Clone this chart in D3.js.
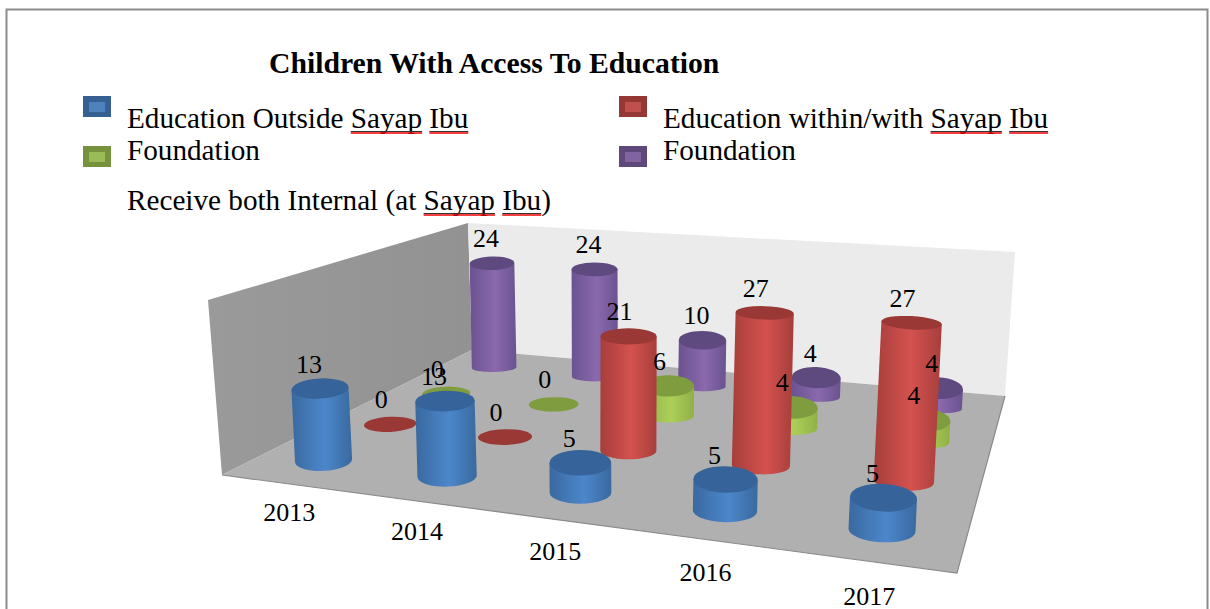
<!DOCTYPE html>
<html lang="en">
<head>
  <meta charset="UTF-8" />
  <title>Children With Access To Education</title>
  <style>
    body { margin: 0; background: #fff; }
    svg { display: block; }
    text { font-family: "Liberation Serif", serif; fill: #000; }
  </style>
</head>
<body>
  <svg id="chart" width="1210" height="609"></svg>

  <script src="https://d3js.org/d3.v7.min.js"></script>
  <script>
    const years = ["2013", "2014", "2015", "2016", "2017"];
    const seriesNames = ["outside", "within", "foundationA", "foundationB"];
    const outside = [13, 13, 5, 5, 5];
    const within = [0, 0, 21, 27, 27];
    const foundationA = [0, 0, 6, 4, 4];
    const foundationB = [24, 24, 10, 4, 4];
    const seriesValues = [outside, within, foundationA, foundationB];

    const palette = [
      { top: "#36649a", edge: "#39699f", mid: "#4c87cb", frame: "#376092", inner: "#4f81bd" },
      { top: "#9a3835", edge: "#a63e3b", mid: "#d4524f", frame: "#953735", inner: "#c0504d" },
      { top: "#7f9c3f", edge: "#8fb045", mid: "#adcf5a", frame: "#76923c", inner: "#9bbb59" },
      { top: "#5f4a7f", edge: "#6b5290", mid: "#8a69ad", frame: "#5f497a", inner: "#8064a2" }
    ];
    const labelShift = [-11, -9, -9, -6];

    const svg = d3.select("#chart");

    // frame of the pasted chart
    svg.append("path").attr("d", "M6.5,620V9.5H1207.5V620")
      .attr("fill", "none").attr("stroke", "#8c8c8c").attr("stroke-width", 2);

    // floor corners on screen, everything else is projected from this
    const FL = [222, 475], FR = [957, 573], BR = [1005, 396], BL = [472, 350];
    const WL = [208, 300], WB = [468, 223], WR = [1015, 252];

    // unit square -> floor quad
    const hom = (() => {
      const dx1 = FR[0] - BR[0], dx2 = BL[0] - BR[0], sx = FL[0] - FR[0] + BR[0] - BL[0];
      const dy1 = FR[1] - BR[1], dy2 = BL[1] - BR[1], sy = FL[1] - FR[1] + BR[1] - BL[1];
      const den = dx1 * dy2 - dx2 * dy1;
      const g = (sx * dy2 - dx2 * sy) / den, h = (dx1 * sy - sx * dy1) / den;
      return { g, h,
        a: FR[0] - FL[0] + g * FR[0], b: BL[0] - FL[0] + h * BL[0],
        d: FR[1] - FL[1] + g * FR[1], e: BL[1] - FL[1] + h * BL[1] };
    })();
    const floorPoint = (u, v) => {
      const w = hom.g * u + hom.h * v + 1;
      return { x: (hom.a * u + hom.b * v + FL[0]) / w, y: (hom.d * u + hom.e * v + FL[1]) / w, w };
    };

    const uScale = d3.scalePoint().domain(years).range([0.1, 0.9]);
    const vScale = d3.scalePoint().domain(seriesNames).range([0.13, 0.86]);
    const labelU = d3.scalePoint().domain(years).range([0.2, 0.93]);
    const valueScale = d3.scaleLinear().domain([0, 30]).range([0, 172]);
    const radius = 29.5;

    const quad = pts => "M" + pts.map(p => p.join(",")).join("L") + "Z";
    const defs = svg.append("defs");
    const wallGrad = defs.append("linearGradient").attr("id", "wallLeft");
    wallGrad.append("stop").attr("offset", 0).attr("stop-color", "#9a9a9a");
    wallGrad.append("stop").attr("offset", 1).attr("stop-color", "#929292");
    palette.forEach((c, i) => {
      const g = defs.append("linearGradient").attr("id", "body" + i);
      g.append("stop").attr("offset", 0).attr("stop-color", c.edge);
      g.append("stop").attr("offset", 0.55).attr("stop-color", c.mid);
      g.append("stop").attr("offset", 1).attr("stop-color", c.edge);
    });

    svg.append("path").attr("d", quad([FL, WL, WB, BL])).attr("fill", "url(#wallLeft)");
    svg.append("path").attr("d", quad([BL, WB, WR, BR])).attr("fill", "#ebebeb");
    svg.append("path").attr("d", quad([FL, BL, BR, FR])).attr("fill", "#b0b0b0");
    svg.append("path").attr("d", `M${FL}L${FR}L${BR}`).attr("fill", "none").attr("stroke", "#8a8a8a").attr("stroke-width", 1.2);

    // flat list of cylinders, far ones first
    const cylinders = [];
    seriesNames.forEach((s, si) => years.forEach((y, yi) => {
      const v = vScale(s);
      const p = floorPoint(uScale(y), v);
      const value = seriesValues[si][yi];
      const h = valueScale(value) / p.w;
      const lean = h * (p.x - 615) * 0.00017;
      const rx = radius / p.w;
      const rot = (p.x - 615) * 0.011;
      const ratio = value === 0 ? 0.29 : 0.46 - 0.0015 * h;
      cylinders.push({ si, yi, value, x: p.x, y: p.y, tx: p.x + lean, ty: p.y - h, rx, ry: rx * ratio, ry0: rx * (0.38 - 0.2 * v), rot });
    }));
    cylinders.sort((a, b) => b.si - a.si || a.yi - b.yi);

    const marks = svg.append("g");
    cylinders.forEach(c => {
      const rad = c.rot * Math.PI / 180;
      const ox = c.rx * Math.cos(rad), oy = c.rx * Math.sin(rad);
      if (c.value > 0) {
        marks.append("path")
          .attr("d", `M${c.x - ox},${c.y - oy}L${c.tx - ox},${c.ty - oy}L${c.tx + ox},${c.ty + oy}L${c.x + ox},${c.y + oy}A${c.rx},${c.ry0} ${c.rot} 0 1 ${c.x - ox},${c.y - oy}Z`)
          .attr("fill", `url(#body${c.si})`);
      }
      marks.append("ellipse")
        .attr("rx", c.rx).attr("ry", c.ry)
        .attr("transform", `translate(${c.tx},${c.ty}) rotate(${c.rot})`)
        .attr("fill", palette[c.si].top);
    });

    // value labels go over all cylinders
    cylinders.forEach(c => {
      svg.append("text").attr("x", c.tx + labelShift[c.si]).attr("y", c.ty - 16)
        .attr("text-anchor", "middle").attr("font-size", 26).text(c.value);
    });

    // year labels in front of the floor
    years.forEach(y => {
      const p = floorPoint(labelU(y), -0.14);
      svg.append("text").attr("x", p.x - 10).attr("y", p.y + 2)
        .attr("text-anchor", "middle").attr("font-size", 26).text(y);
    });

    svg.append("text").attr("x", 269).attr("y", 73)
      .attr("font-size", 29.7).attr("font-weight", "bold").text("Children With Access To Education");

    // legend
    const legendSwatches = [
      { si: 0, x: 83, y: 96 }, { si: 1, x: 619, y: 96 },
      { si: 2, x: 83, y: 146 }, { si: 3, x: 619, y: 146 }
    ];
    legendSwatches.forEach(d => {
      svg.append("rect").attr("x", d.x).attr("y", d.y).attr("width", 28).attr("height", 21).attr("fill", palette[d.si].frame);
      svg.append("rect").attr("x", d.x + 6).attr("y", d.y + 6).attr("width", 16).attr("height", 10).attr("fill", palette[d.si].inner);
    });

    // text with Word's spell check marks under some words
    function legendText(x, y, text, marked) {
      const t = svg.append("text").attr("x", x).attr("y", y).attr("font-size", 29.2).text(text);
      const node = t.node();
      marked.forEach(word => {
        const at = text.indexOf(word);
        const x0 = x + node.getSubStringLength(0, at);
        const len = node.getSubStringLength(at, word.length);
        svg.append("line").attr("x1", x0).attr("x2", x0 + len).attr("y1", y + 3.5).attr("y2", y + 3.5).attr("stroke", "#333").attr("stroke-width", 1);
        svg.append("line").attr("x1", x0).attr("x2", x0 + len).attr("y1", y + 5).attr("y2", y + 5).attr("stroke", "#f00000").attr("stroke-width", 1.6);
      });
    }
    legendText(127, 128, "Education Outside Sayap Ibu", ["Sayap", "Ibu"]);
    legendText(663, 128, "Education within/with Sayap Ibu", ["Sayap", "Ibu"]);
    legendText(127, 160, "Foundation", []);
    legendText(663, 160, "Foundation", []);
    legendText(127, 210, "Receive both Internal (at Sayap Ibu)", ["Sayap", "Ibu"]);
  </script>
</body>
</html>
